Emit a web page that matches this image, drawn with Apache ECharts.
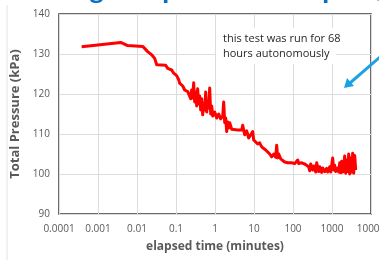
<!DOCTYPE html>
<html>
<head>
    <meta charset="utf-8">
    <script src="https://cdn.jsdelivr.net/npm/echarts@6/dist/echarts.min.js"></script>
</head>
<body>
    <div id="chart"></div>
</body>
<style>
    body {
        margin: 0;
        background: #fff;
    }

    #chart {
        width: 379px;
        height: 260px;
    }
</style>
<script>
    // elapsed time (minutes) and total pressure (kPa)
    const times = [
        0.00038, 0.00382, 0.00577, 0.0140, 0.0188, 0.0238, 0.0284, 0.0320, 0.0544, 0.0612,
        0.0776, 0.0873, 0.104, 0.117, 0.124, 0.149, 0.167, 0.200, 0.224, 0.238,
        0.252, 0.268, 0.284, 0.301, 0.319, 0.339, 0.359, 0.381, 0.404, 0.430,
        0.456, 0.484, 0.513, 0.544, 0.577, 0.612, 0.650, 0.689, 0.731, 0.776,
        0.823, 0.873, 0.982, 1.105, 1.244, 1.400, 1.576, 1.671, 1.773, 1.881,
        1.995, 2.117, 2.245, 2.382, 2.681, 3.017, 3.821, 4.838, 5.132, 5.774,
        6.500, 7.314, 8.230, 9.26, 9.82, 11.05, 12.44, 14.00, 15.76, 17.73,
        19.95, 22.45, 25.27, 28.43, 32.0, 36.0, 38.2, 40.5, 43.0, 48.4,
        54.4, 61.3, 73.1, 92.6, 110.6, 132.0, 140.0, 167.1, 199.5, 224.5,
        252.7, 268.1, 284.3, 320.0, 339.4, 382.1, 405.3, 456.1, 483.8, 544.5,
        577.6, 650.0, 731.4, 775.8, 873.1, 926.1, 1042, 1105, 1173, 1244,
        1400, 1485, 1576, 1671, 1773, 1881, 1995, 2117, 2245, 2382,
        2527, 2681, 2844, 3017, 3200, 3395, 3601, 3821, 4053
    ]
    const pressure = [
        131.8, 132.9, 132.1, 131.9, 130.6, 129.8, 128.9, 127.3, 127.2, 126.4,
        126.0, 125.2, 124.6, 123.6, 122.7, 122.0, 121.0, 120.6, 120.2, 118.8,
        121.0, 119.0, 122.8, 118.0, 120.5, 117.0, 121.3, 117.5, 119.5, 116.0,
        118.8, 114.8, 117.5, 116.0, 120.5, 115.5, 118.0, 116.5, 121.5, 115.0,
        117.0, 114.5, 115.5, 114.0, 115.0, 113.8, 114.5, 118.0, 112.8, 114.0,
        110.6, 113.0, 111.5, 112.8, 111.2, 111.0, 111.0, 111.0, 112.2, 109.8,
        110.8, 109.0, 109.5, 110.6, 108.5, 108.8, 107.5, 107.8, 106.8, 107.0,
        106.0, 105.5, 105.0, 104.3, 105.0, 104.2, 107.2, 104.0, 105.0, 103.8,
        104.0, 103.0, 102.8, 102.8, 102.6, 103.5, 102.6, 102.8, 102.5, 102.8,
        101.8, 100.8, 102.5, 101.0, 102.0, 100.5, 102.8, 100.6, 101.8, 100.4,
        101.5, 100.6, 101.4, 100.5, 101.8, 100.5, 104.0, 101.0, 102.2, 100.6,
        101.5, 100.5, 102.8, 100.3, 103.2, 100.5, 102.0, 104.5, 100.2, 103.5,
        100.6, 105.0, 100.0, 104.0, 100.5, 105.2, 100.2, 104.6, 101.0
    ]
    const xTicks = [0.0001, 0.001, 0.01, 0.1, 1, 10, 100, 1000, 10000]
    const note = ['this test was run for 68', 'hours autonomously']

    const chart = echarts.init(document.getElementById('chart'))
    const labelColor = '#595959'

    chart.setOption({
        animation: false,
        grid: {
            left: 59,
            right: 8,
            top: 14,
            bottom: 46,
            outerBoundsMode: 'none',
            containLabel: false,
            show: true,
            borderColor: '#3a3a3a',
            borderWidth: 1.5
        },
        xAxis: {
            type: 'log',
            logBase: 10,
            min: xTicks[0],
            max: xTicks[xTicks.length - 1],
            name: 'elapsed time (minutes)',
            nameLocation: 'middle',
            nameGap: 27,
            nameTextStyle: { color: labelColor, fontSize: 12, fontWeight: 'bold', fontFamily: 'Open Sans' },
            axisLine: { show: false },
            axisTick: { show: false },
            minorTick: { show: false },
            splitLine: { show: true, lineStyle: { color: '#dcdcdc', width: 1 } },
            axisLabel: {
                color: labelColor,
                fontSize: 10,
                fontFamily: 'Open Sans',
                margin: 10,
                hideOverlap: false,
                showMinLabel: true,
                showMaxLabel: true,
                formatter: v => {
                    const t = xTicks.find(k => Math.abs(Math.log10(k) - Math.log10(v)) < 0.01)
                    return t === undefined ? '' : String(t)
                }
            }
        },
        yAxis: {
            type: 'value',
            min: 90,
            max: 140,
            interval: 10,
            name: 'Total Pressure (kPa)',
            nameLocation: 'middle',
            nameGap: 24,
            nameTextStyle: { color: labelColor, fontSize: 13, fontWeight: 'bold', fontFamily: 'Open Sans' },
            axisLine: { show: false },
            axisTick: { show: false },
            splitLine: { show: true, lineStyle: { color: '#dcdcdc', width: 1 } },
            axisLabel: { color: labelColor, fontSize: 10, fontFamily: 'Open Sans', margin: 9 }
        },
        series: [{
            type: 'line',
            data: times.map((t, i) => [t, pressure[i]]),
            showSymbol: false,
            lineStyle: { color: '#ff0000', width: 3, join: 'round' }
        }],
        graphic: [
            // faint frame of the slide panel
            { type: 'line', shape: { x1: 7, y1: 5, x2: 7, y2: 260 }, style: { stroke: '#e2e2e2', lineWidth: 1 } },
            // text box hides the grid behind it
            { type: 'rect', z: 100, shape: { x: 216, y: 28, width: 120, height: 36 }, style: { fill: '#fff' } },
            {
                type: 'text', z: 101, left: 223, top: 31,
                style: { text: note.join('\n'), fill: '#262626', fontSize: 11, lineHeight: 15, fontFamily: 'Open Sans' }
            },
            // blue arrow
            { type: 'line', z: 100, shape: { x1: 380, y1: 57, x2: 350, y2: 83 }, style: { stroke: '#19a3e3', lineWidth: 3 } },
            { type: 'polygon', z: 100, shape: { points: [[344, 88], [354, 86], [347, 78]] }, style: { fill: '#19a3e3' } },
            // cut-off slide title above the chart
            { type: 'text', x: 90, y: 2, style: { text: 'g', fill: '#0a6fc2', font: 'bold 24px "Open Sans"', verticalAlign: 'bottom' } },
            { type: 'text', x: 162, y: 2, style: { text: 'p', fill: '#0a6fc2', font: 'bold 24px "Open Sans"', verticalAlign: 'bottom' } },
            { type: 'text', x: 322, y: 2, style: { text: 'p', fill: '#0a6fc2', font: 'bold 24px "Open Sans"', verticalAlign: 'bottom' } },
            { type: 'text', x: 373, y: 2, style: { text: '(', fill: '#0a6fc2', font: 'bold 24px "Open Sans"', verticalAlign: 'bottom' } }
        ]
    })
</script>
</html>
